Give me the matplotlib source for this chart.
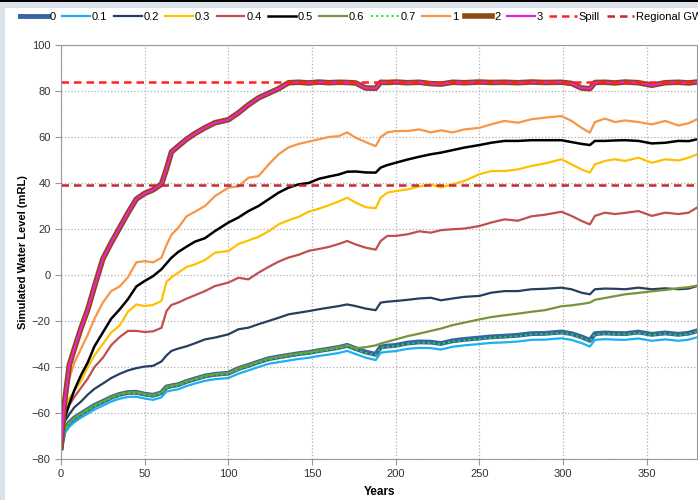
import matplotlib
matplotlib.use("Agg")
import matplotlib.pyplot as plt
from matplotlib.patches import Rectangle

plt.rcParams['font.family'] = ['Liberation Sans', 'DejaVu Sans']

years = [0, 2, 5, 8, 12, 16, 20, 25, 30, 35,
         40, 45, 50, 55, 60, 63, 66, 70, 75, 80,
         86, 92, 100, 106, 112, 118, 124, 130, 136, 142,
         148, 154, 160, 166, 171, 176, 182, 188, 191, 195,
         200, 207, 214, 221, 227, 234, 241, 250, 257, 265,
         273, 281, 289, 299, 305, 311, 316, 319, 325, 331,
         337, 345, 353, 361, 369, 375, 380]

s0 = [-75, -67.2, -64.2, -62.2, -60.3, -58.5, -56.7, -55.0, -53.2, -51.9,
      -51.1, -51.0, -51.8, -52.3, -51.2, -48.7, -48.2, -47.7, -46.3, -45.2,
      -43.9, -43.2, -42.7, -40.7, -39.3, -37.8, -36.4, -35.6, -34.9, -34.2,
      -33.7, -32.9, -32.2, -31.5, -30.6, -32.0, -33.5, -34.5, -31.3, -30.9,
      -30.6, -29.6, -29.1, -29.2, -29.8, -28.6, -28.0, -27.4, -26.9, -26.6,
      -26.2, -25.5, -25.4, -24.8, -25.5, -26.9, -28.4, -25.5, -25.2, -25.4,
      -25.5, -24.8, -25.8, -25.2, -25.8, -25.3, -24.3]
s01 = [-75, -69, -66, -64, -62, -60.3, -58.5, -56.8, -55, -53.8,
       -53, -52.9, -53.7, -54.3, -53.2, -50.7, -50.2, -49.7, -48.3, -47.2,
       -46, -45.3, -44.8, -42.9, -41.5, -40, -38.6, -37.9, -37.2, -36.5,
       -36, -35.2, -34.6, -33.9, -33, -34.4, -35.9, -37, -33.8, -33.4,
       -33.1, -32.1, -31.7, -31.8, -32.4, -31.2, -30.6, -30, -29.5, -29.3,
       -28.9, -28.2, -28.1, -27.5, -28.2, -29.6, -31.1, -28.2, -27.9, -28.1,
       -28.2, -27.6, -28.6, -28, -28.6, -28.1, -27.1]
s02 = [-75, -64, -60.5, -57.5, -55, -52, -49.5, -47.2, -44.8, -43,
       -41.5, -40.5, -39.8, -39.5, -37.6, -35, -33, -32, -31, -29.7,
       -28, -27.2, -25.8, -23.6, -22.9, -21.4, -20, -18.6, -17.1, -16.4,
       -15.7, -14.9, -14.2, -13.5, -12.8, -13.5, -14.6, -15.3, -12, -11.6,
       -11.3, -10.8, -10.2, -9.9, -11, -10.2, -9.5, -9.1, -7.7, -7,
       -7, -6.2, -6, -5.5, -6.2, -7.7, -8.4, -6.2, -5.9, -6,
       -6.2, -5.5, -6.2, -5.8, -6.2, -5.9, -4.8]
s03 = [-75, -59, -53.5, -50.5, -46, -40, -35, -30, -25, -22,
       -16, -12.8, -13.5, -13, -11.3, -3, -1, 1, 3.5, 4.6,
       6.5, 9.7, 10.4, 13.5, 15, 16.6, 19, 22, 23.8, 25.3,
       27.5, 28.8, 30.3, 32, 33.6, 31.5, 29.5, 29, 33.6, 35.8,
       36.5, 37.2, 38.5, 39.4, 38, 39.5, 40.9, 43.8, 45.2, 45.2,
       45.9, 47.4, 48.5, 50.3, 48.1, 45.9, 44.5, 48.1, 49.6, 50.3,
       49.6, 51, 48.8, 50.3, 49.8, 51, 52.5]
s04 = [-75, -60, -56.5, -53, -49, -45, -40, -36, -30.5, -27,
       -24.3, -24.3, -24.8, -24.5, -23, -15.7, -13, -12, -10.3, -8.8,
       -7, -4.8, -3.3, -1.2, -1.9, 1, 3.5, 5.8, 7.6, 8.8,
       10.5, 11.3, 12.2, 13.5, 14.8, 13.3, 11.9, 11, 14.8, 17,
       17, 17.7, 19, 18.4, 19.5, 19.9, 20.2, 21.3, 22.8, 24.2,
       23.6, 25.5, 26.2, 27.5, 25.7, 23.5, 22, 25.7, 27.1, 26.5,
       27, 27.8, 25.7, 27.1, 26.5, 27.1, 29.3]
s05 = [-75, -63, -56, -50, -43.5, -38, -31, -25, -19, -15,
       -10.5, -5, -2.6, -0.5, 2.5, 5, 7.5, 10, 12.3, 14.5,
       16, 19.1, 22.8, 25, 27.8, 30, 32.9, 35.8, 38, 39.4,
       40, 41.8, 42.8, 43.7, 44.9, 45, 44.6, 44.5, 46.7, 47.8,
       48.8, 50.2, 51.4, 52.5, 53.2, 54.3, 55.4, 56.5, 57.5, 58.3,
       58.3, 58.6, 58.6, 58.6, 57.8, 57, 56.5, 58.3, 58.3, 58.5,
       58.6, 58.3, 57.2, 57.5, 58.3, 58.2, 59]
s06 = [-75, -67.1, -64.1, -62.1, -60.2, -58.4, -56.6, -54.9, -53.1, -51.8,
       -51.0, -50.9, -51.7, -52.2, -51.1, -48.6, -48.1, -47.6, -46.2, -45.1,
       -43.8, -43.1, -42.6, -40.6, -39.2, -37.7, -36.3, -35.5, -34.8, -34.1,
       -33.6, -32.8, -32.1, -31.4, -30.5, -31.8, -31.4, -30.6, -29.8, -29,
       -28, -26.6, -25.5, -24.3, -23.3, -21.8, -20.7, -19.3, -18.3, -17.5,
       -16.8, -16, -15.3, -13.6, -13.2, -12.6, -12, -10.8, -10, -9.2,
       -8.4, -7.8, -7.1, -6.5, -5.7, -5.3, -4.6]
s07 = [-75, -67.5, -64.5, -62.5, -60.6, -58.8, -57, -55.3, -53.5, -52.2,
       -51.4, -51.3, -52.1, -52.6, -51.5, -49, -48.5, -48, -46.6, -45.5,
       -44.2, -43.5, -43, -41, -39.6, -38.1, -36.7, -35.9, -35.2, -34.5,
       -34, -33.2, -32.5, -31.8, -30.9, -32.3, -33.8, -34.8, -31.6, -31.2,
       -30.9, -29.9, -29.4, -29.5, -30.1, -28.9, -28.3, -27.7, -27.2, -26.9,
       -26.5, -25.8, -25.7, -25.1, -25.8, -27.2, -28.7, -25.8, -25.5, -25.7,
       -25.8, -25.1, -26.1, -25.5, -26.1, -25.6, -24.6]
s1 = [-75, -52, -45, -38, -32, -26, -19, -12, -7, -5,
      -1, 5.5, 6, 5.5, 7.5, 13, 17.5, 20.5, 25.5, 27.5,
      30, 34.3, 38, 38.5, 42.3, 43, 48, 52.5, 55.5, 57,
      58, 59, 60, 60.4, 62, 59.7, 57.8, 56, 60, 62,
      62.6, 62.6, 63.3, 62, 62.9, 62, 63.3, 64, 65.5, 67,
      66.2, 67.7, 68.4, 69.1, 67, 64, 61.9, 66.5, 68, 66.5,
      67.2, 66.5, 65.5, 67, 65, 66, 67.7]
s2 = [-75, -56, -39, -32, -23, -15, -5, 7, 14, 20.5,
      27, 33, 35.5, 37, 39.5, 46, 53.5, 56, 59, 61.5,
      64, 66.2, 67.5, 70.5, 74, 77, 79, 81, 83.6, 83.8,
      83.5, 83.9, 83.6, 83.8, 83.7, 83.5, 81.3, 81.2, 83.8, 83.7,
      83.9, 83.6, 83.8, 83.2, 83.0, 83.8, 83.6, 83.9, 83.7, 83.8,
      83.6, 83.9, 83.7, 83.8, 83.3, 81.3, 81.0, 83.7, 83.8, 83.5,
      83.9, 83.6, 82.5, 83.6, 83.8, 83.5, 83.9]
s3 = s2
spill = 84
regional_gw = 39

series = [
    ('0', s0, '#3465a4', 3.5, '-'),
    ('0.1', s01, '#1cb0ee', 1.6, '-'),
    ('0.2', s02, '#243f60', 1.6, '-'),
    ('0.3', s03, '#ffc000', 1.6, '-'),
    ('0.4', s04, '#c0504d', 1.6, '-'),
    ('0.5', s05, '#000000', 1.8, '-'),
    ('0.6', s06, '#77933c', 1.6, '-'),
    ('0.7', s07, '#22dd22', 1.4, ':'),
    ('1', s1, '#f79646', 1.6, '-'),
    ('2', s2, '#8b4a12', 4.0, '-'),
    ('3', s3, '#ee22cc', 1.6, '-'),
]

fig = plt.figure(figsize=(6.98, 5.0), dpi=100, facecolor='#dbe2ea')
fig.patches.append(Rectangle((5 / 698, 0), 1, 492 / 500, transform=fig.transFigure,
                             facecolor='white', edgecolor='none', zorder=-5))
fig.patches.append(Rectangle((0, 498 / 500), 1, 2 / 500, transform=fig.transFigure,
                             facecolor='black', edgecolor='none', zorder=-5))

ax = fig.add_axes([61 / 698, 41 / 500, 636 / 698, 414 / 500])

for name, vals, col, lw, ls in series:
    ax.plot(years, vals, color=col, lw=lw, ls=ls, label=name, solid_joinstyle='round')
ax.axhline(spill, color='#ff2020', lw=1.8, ls=(0, (3, 2)), label='Spill')
ax.axhline(regional_gw, color='#c8282d', lw=1.8, ls=(0, (3, 2)), label='Regional GW')

ax.set_xlim(0, 380)
ax.set_ylim(-80, 100)
ax.set_xticks(range(0, 351, 50))
ax.set_yticks(range(-80, 101, 20))
ax.grid(True, color='#b0b0b0', ls=':', lw=0.9)
ax.set_axisbelow(True)
for sp in ax.spines.values():
    sp.set_color('#999999')
ax.tick_params(colors='#999999', labelcolor='#333333', labelsize=8, length=4)
ax.set_xlabel('Years', fontsize=8.5, fontweight='bold', labelpad=5)
ax.set_ylabel('Simulated Water Level (mRL)', fontsize=8, fontweight='bold', labelpad=3)

ax.legend(loc='upper left', bbox_to_anchor=(20 / 698, 1 - 12 / 500), bbox_transform=fig.transFigure,
          ncol=13, frameon=False, fontsize=8, handlelength=2.5, handletextpad=0.15,
          columnspacing=0.6, borderaxespad=0, borderpad=0)

fig.savefig('out.png', dpi=100, facecolor=fig.get_facecolor())
